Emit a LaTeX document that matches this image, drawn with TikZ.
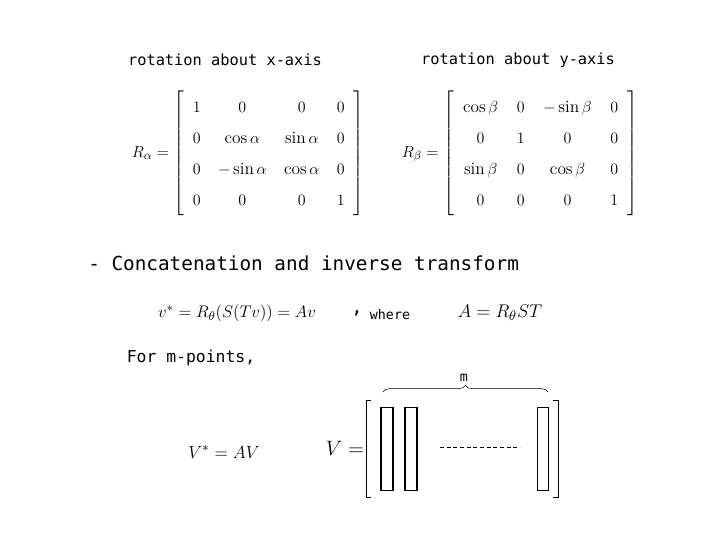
\documentclass[tikz,border=0pt]{standalone}
\usepackage{amsmath}
\usepackage{graphicx}
\usepackage{fontspec}
\setsansfont{DejaVu Sans Mono}
\usetikzlibrary{decorations.pathreplacing}
\tikzset{lab/.style={font=\sffamily\fontsize{11.5}{14}\selectfont, inner sep=0pt},
 mat/.style={font=\fontsize{13}{16}\selectfont, inner sep=0pt},
 col/.style={draw, line width=0.8pt}}
\begin{document}
\begin{tikzpicture}[x=0.75pt,y=-0.75pt]
\useasboundingbox (0,0) rectangle (720,540);
\node[lab] (lx) at (225,60) {rotation about x-axis};
\node[lab] (ly) at (518,60) {rotation about y-axis};
\node[mat] (rx) at (248,153) {$R_\alpha=\renewcommand{\arraystretch}{1.45}\setlength{\arraycolsep}{6.5pt}\left[\begin{array}{cccc}1&0&0&0\\0&\cos\alpha&\sin\alpha&0\\0&-\sin\alpha&\cos\alpha&0\\0&0&0&1\end{array}\right]$};
\node[mat] (ry) at (520,153) {$R_\beta=\renewcommand{\arraystretch}{1.45}\setlength{\arraycolsep}{7pt}\left[\begin{array}{cccc}\cos\beta&0&-\sin\beta&0\\0&1&0&0\\\sin\beta&0&\cos\beta&0\\0&0&0&1\end{array}\right]$};
\node[lab, font=\sffamily\fontsize{14.5}{18}\selectfont, anchor=west] (cc) at (88,263) {- Concatenation and inverse transform};
\node[mat] (e1) at (237,313) {\scalebox{1.05}{$v^*=R_\theta(S(Tv))=Av$}};
\node[lab, font=\sffamily\fontsize{14}{16}\selectfont] (cm) at (357,313) {,};
\node[lab, font=\sffamily\fontsize{10}{11}\selectfont] (wh) at (390,315) {where};
\node[mat] (e2) at (500,313) {\scalebox{1.15}{$A=R_\theta ST$}};
\node[lab, font=\sffamily\fontsize{12.3}{14}\selectfont] (fm) at (191,358) {For m-points,};
\node[mat] (e3) at (224,452) {\scalebox{1.1}{$V^*=AV$}};
\node[mat] (e4) at (345,448) {\scalebox{1.3}{$V=$}};
\draw[line width=0.6pt] (371,400) -- (366,400) -- (366,497) -- (371,497);
\draw[line width=0.6pt] (553,400) -- (558,400) -- (558,497) -- (553,497);
\node[col, minimum width=9pt, minimum height=62pt] (c1) at (387,449) {};
\node[col, minimum width=9pt, minimum height=62pt] (c2) at (411,449) {};
\node[col, minimum width=8pt, minimum height=62pt] (c3) at (543,449) {};
\coordinate (d1) at (440,447); \coordinate (d2) at (520,447);
\draw[dash pattern=on 3pt off 2pt] (d1) -- (d2);
\coordinate (b1) at (383,392); \coordinate (b2) at (548,392);
\draw[decorate, decoration={brace, amplitude=5pt}] (b1) -- (b2);
\node[lab, font=\sffamily\fontsize{10}{12}\selectfont] (m) at (464,378) {m};
\end{tikzpicture}
\end{document}
